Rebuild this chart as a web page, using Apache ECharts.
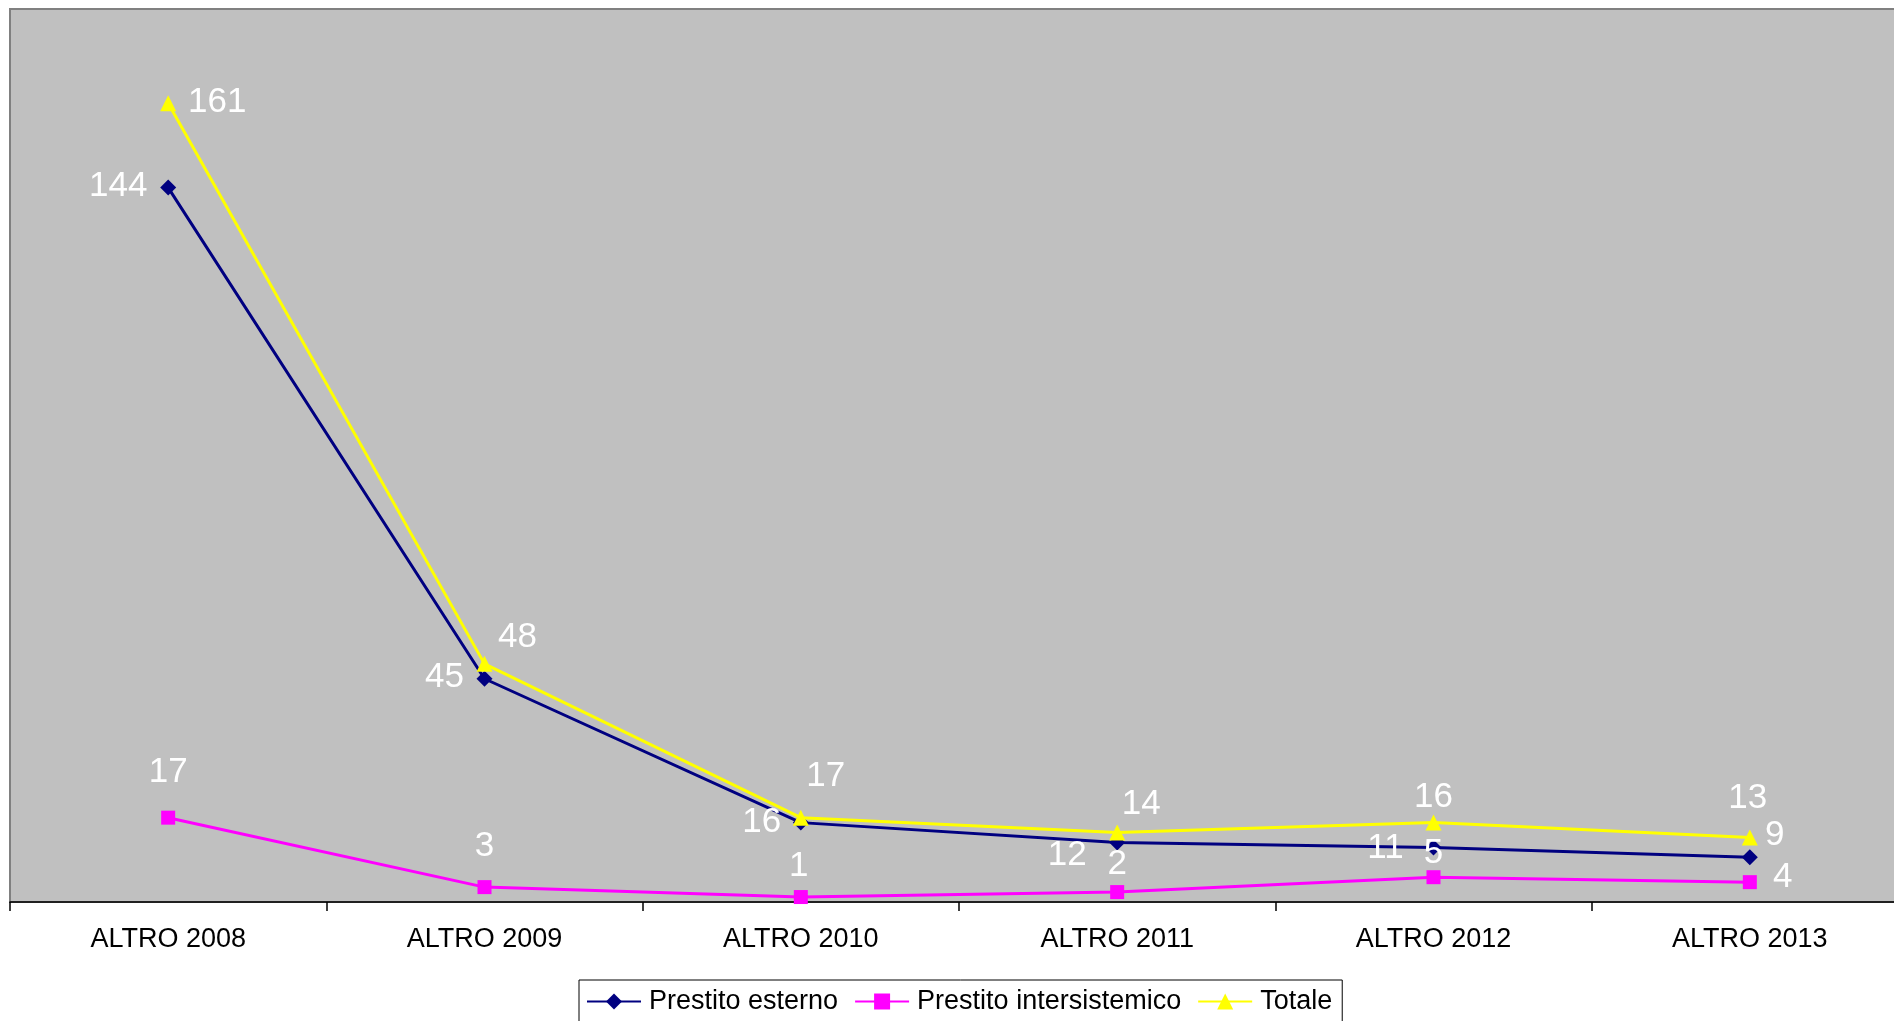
<!DOCTYPE html>
<html>
<head>
<meta charset="utf-8">
<style>
html,body{margin:0;padding:0;background:#fff;overflow:hidden;width:1894px;height:1021px;}
#chart{width:1908px;height:1021px;}
</style>
<script src="https://cdn.jsdelivr.net/npm/echarts@6/dist/echarts.min.js"></script>
</head>
<body>
<div id="chart"></div>
<script>
var categories = ["ALTRO 2008", "ALTRO 2009", "ALTRO 2010", "ALTRO 2011", "ALTRO 2012", "ALTRO 2013"];
var seriesNames = ["Prestito esterno", "Prestito intersistemico", "Totale"];
var esterno = [144, 45, 16, 12, 11, 9];
var intersistemico = [17, 3, 1, 2, 5, 4];
var totale = [161, 48, 17, 14, 16, 13];

// label offsets (pixels from marker centre), matching the hand-placed labels
var esternoOffsets = [[-50, -1], [-40, -1], [-39, 0], [-50, 13], [-48, 1], [25, -22]];
var interOffsets = [[0, -45], [0, -41], [-2, -31], [0, -28], [0, -24], [33, -5]];
var totaleOffsets = [[49, -1], [33, -27], [25, -41], [24, -28], [0, -25], [-2, -39]];

function withLabels(values, offsets) {
  return values.map(function (v, i) {
    return { value: v, label: { offset: offsets[i] } };
  });
}

var labelBase = {
  show: true,
  position: 'inside',
  color: '#ffffff',
  fontSize: 35,
  fontFamily: 'Liberation Sans, Arial, sans-serif',
  align: 'center',
  verticalAlign: 'middle'
};

var chart = echarts.init(document.getElementById('chart'), null, { renderer: 'canvas' });
chart.setOption({
  animation: false,
  backgroundColor: '#ffffff',
  grid: {
    show: true,
    left: 10,
    top: 9,
    right: 0,
    bottom: 119,
    backgroundColor: '#C0C0C0',
    borderColor: '#808080',
    borderWidth: 2,
    containLabel: false
  },
  legend: {
    data: seriesNames,
    left: 579,
    top: 980,
    orient: 'horizontal',
    itemWidth: 54,
    itemHeight: 20,
    itemGap: 16,
    padding: [8, 10, 20, 7],
    borderColor: '#000000',
    borderWidth: 1,
    backgroundColor: '#ffffff',
    textStyle: {
      color: '#000000',
      fontSize: 27,
      fontFamily: 'Liberation Sans, Arial, sans-serif',
      padding: [0, 0, 0, 3]
    }
  },
  xAxis: {
    type: 'category',
    data: categories,
    boundaryGap: true,
    axisLine: { show: true, lineStyle: { color: '#000000', width: 1.5 } },
    axisTick: { show: true, length: 9, inside: false, lineStyle: { color: '#000000', width: 1.5 } },
    axisLabel: {
      color: '#000000',
      fontSize: 27,
      fontFamily: 'Liberation Sans, Arial, sans-serif',
      margin: 24
    },
    splitLine: { show: false }
  },
  yAxis: {
    type: 'value',
    min: 0,
    max: 180,
    show: false,
    splitLine: { show: false }
  },
  series: [
    {
      name: seriesNames[0],
      type: 'line',
      data: withLabels(esterno, esternoOffsets),
      symbol: 'diamond',
      symbolSize: 16,
      itemStyle: { color: '#000080' },
      lineStyle: { color: '#000080', width: 3 },
      label: labelBase,
      z: 2
    },
    {
      name: seriesNames[1],
      type: 'line',
      data: withLabels(intersistemico, interOffsets),
      symbol: 'rect',
      symbolSize: 14,
      itemStyle: { color: '#FF00FF' },
      lineStyle: { color: '#FF00FF', width: 3 },
      label: labelBase,
      z: 3
    },
    {
      name: seriesNames[2],
      type: 'line',
      data: withLabels(totale, totaleOffsets),
      symbol: 'triangle',
      symbolSize: 16,
      itemStyle: { color: '#FFFF00' },
      lineStyle: { color: '#FFFF00', width: 3 },
      label: labelBase,
      z: 4
    }
  ]
});
</script>
</body>
</html>
